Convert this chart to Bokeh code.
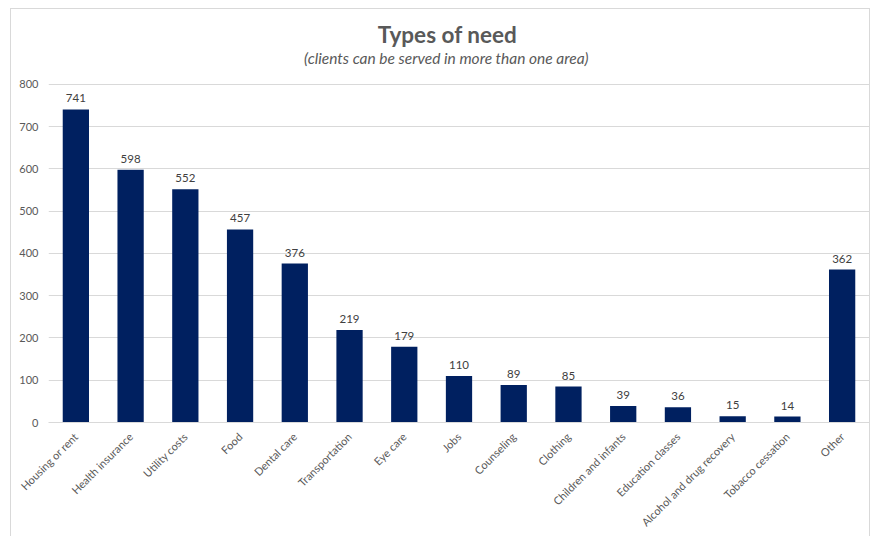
from bokeh.plotting import figure
from bokeh.models import ColumnDataSource, Range1d, Label, InlineStyleSheet
from bokeh.core.properties import value
from bokeh.embed import file_html
from bokeh.resources import INLINE
import math

categories = ["Housing or rent", "Health insurance", "Utility costs", "Food", "Dental care",
              "Transportation", "Eye care", "Jobs", "Counseling", "Clothing",
              "Children and infants", "Education classes", "Alcohol and drug recovery",
              "Tobacco cessation", "Other"]
counts = [741, 598, 552, 457, 376, 219, 179, 110, 89, 85, 39, 36, 15, 14, 362]
y_ticks = [0, 100, 200, 300, 400, 500, 600, 700, 800]

FONT = "Lato"
TXT = "#595959"

src = ColumnDataSource(dict(cat=categories, val=counts, lab=[str(v) for v in counts]))

# y range extends above 800 so the frame also holds the title area
p = figure(x_range=categories, y_range=Range1d(0, 975), width=873, height=536,
           output_backend="svg", toolbar_location=None, tools="",
           min_border_left=48, min_border_right=4, min_border_top=10, min_border_bottom=114)
p.outline_line_color = None
p.background_fill_color = "white"
p.border_fill_color = "white"
p.stylesheets = [InlineStyleSheet(css=""":host { position: relative; }
:host::after { content: ""; position: absolute; left: 10px; top: 8px; width: 860px;
  height: 560px; border: 1px solid #d9d9d9; pointer-events: none; box-sizing: border-box; }""")]

p.vbar(x="cat", top="val", width=0.48, source=src, fill_color="#002060", line_color=None)
p.text(x="cat", y="val", text="lab", source=src, text_align="center", text_baseline="bottom",
       y_offset=-7, text_font=value(FONT), text_font_size="11.5px", text_color="#404040")

p.xgrid.grid_line_color = None
p.ygrid.grid_line_color = "#d9d9d9"
p.yaxis.ticker = y_ticks
p.yaxis.axis_line_color = None
p.yaxis.major_tick_line_color = None
p.yaxis.minor_tick_line_color = None
p.yaxis.major_label_text_font = FONT
p.yaxis.major_label_text_font_size = "11px"
p.yaxis.major_label_text_color = TXT
p.yaxis.major_label_standoff = 4

p.xaxis.axis_line_color = "#d9d9d9"
p.xaxis.major_tick_line_color = None
p.xaxis.minor_tick_line_color = None
p.xaxis.major_label_orientation = math.pi / 4
p.xaxis.major_label_text_font = FONT
p.xaxis.major_label_text_font_size = "11px"
p.xaxis.major_label_text_color = TXT
p.xaxis.major_label_standoff = 6

p.add_layout(Label(x=7.29, y=918, text="Types of need",
                   text_align="center", text_baseline="middle", text_font=FONT,
                   text_font_size="22.5px", text_font_style="bold", text_color=TXT))
p.add_layout(Label(x=7.27, y=862,
                   text="(clients can be served in more than one area)",
                   text_align="center", text_baseline="middle", text_font=FONT,
                   text_font_size="15.5px", text_font_style="italic", text_color=TXT))

open("out.html", "w").write(file_html(p, INLINE))
